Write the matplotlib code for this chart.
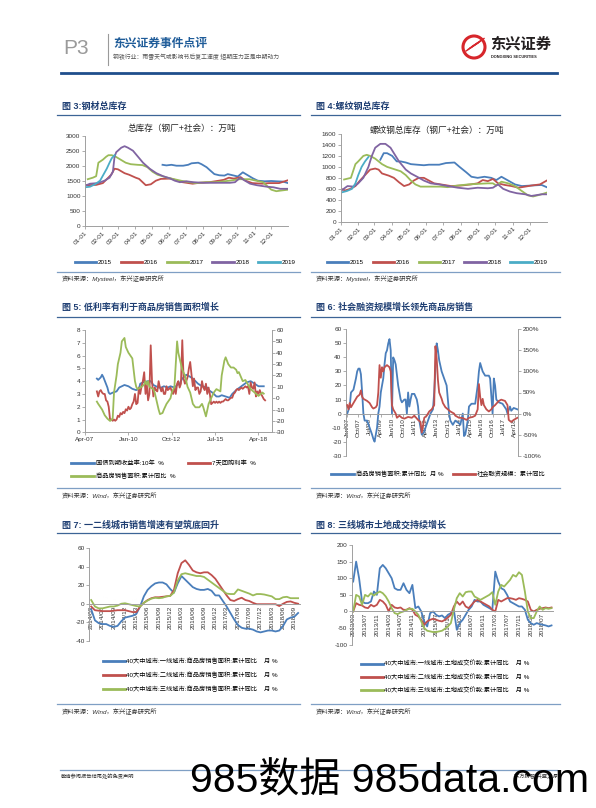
import numpy as np
import pandas as pd
import matplotlib
matplotlib.use('Agg')
import matplotlib.pyplot as plt
import matplotlib.dates as mdates
from matplotlib.lines import Line2D
from matplotlib.patches import Circle
from matplotlib.ticker import FuncFormatter

W, H = 596, 808
plt.rcParams['font.family'] = ['Liberation Sans', 'Noto Sans CJK SC', 'DejaVu Sans']
plt.rcParams['axes.unicode_minus'] = False

BLUE = '#4a7ebb'
RED = '#c0504d'
GREEN = '#9bbb59'
PURPLE = '#8064a2'
CYAN = '#4bacc6'
NAVY = '#1f3f73'
AX_GRAY = '#a0a0a0'

# 图3 钢材总库存（万吨）
steel15_d = ['05-20', '05-27', '06-05', '06-14', '06-26', '07-05', '07-11', '07-23', '07-29', '08-07', '08-13',
             '08-21', '08-30', '09-08', '09-14', '09-23', '10-02', '10-11', '10-20', '10-29', '11-07', '11-19',
             '12-01', '12-10', '12-22', '12-31']
steel15 = [2030, 2010, 2030, 2000, 2000, 2030, 2080, 2100, 2050, 1950, 1850, 1720, 1680, 1670, 1720, 1680, 1640,
           1780, 1680, 1580, 1500, 1480, 1490, 1480, 1470, 1420]
steel16_d = ['01-01', '01-21', '02-02', '02-17', '02-23', '03-01', '03-13', '03-21', '04-02', '04-08', '04-20',
             '04-29', '05-08', '05-17', '06-04', '06-16', '06-25', '07-13', '07-25', '08-12', '08-29', '09-07',
             '09-16', '09-25', '10-07', '10-16', '10-28', '11-15', '11-27', '12-15', '12-30']
steel16 = [1350, 1360, 1420, 1700, 1900, 1880, 1750, 1700, 1600, 1560, 1350, 1380, 1500, 1560, 1570, 1500, 1450,
           1400, 1430, 1450, 1500, 1530, 1600, 1570, 1620, 1500, 1420, 1400, 1420, 1420, 1510]
steel17_d = ['01-06', '01-15', '01-21', '01-25', '02-02', '02-08', '02-12', '02-18', '02-25', '03-06', '03-15',
             '03-24', '04-05', '04-14', '04-23', '05-02', '05-11', '05-20', '05-29', '06-10', '06-22', '07-07',
             '07-19', '08-06', '08-24', '09-17', '10-05', '10-23', '11-04', '11-16', '11-25', '12-01', '12-10',
             '12-22', '12-31']
steel17 = [1550, 1600, 1650, 2100, 2200, 2300, 2350, 2350, 2300, 2200, 2100, 2050, 2030, 2020, 1950, 1800, 1700,
           1650, 1600, 1550, 1500, 1450, 1420, 1450, 1450, 1500, 1550, 1550, 1500, 1450, 1300, 1200, 1150, 1180,
           1200]
steel18_d = ['01-01', '01-10', '01-24', '02-05', '02-14', '02-20', '02-23', '02-26', '03-07', '03-13', '03-19',
             '03-28', '04-06', '04-15', '04-27', '05-09', '05-21', '06-02', '06-11', '06-20', '07-02', '07-14',
             '08-01', '08-25', '09-18', '09-27', '10-06', '10-15', '10-24', '11-05', '11-23', '12-05', '12-17',
             '12-31']
steel18 = [1330, 1400, 1420, 1500, 1600, 1800, 2300, 2450, 2600, 2650, 2600, 2500, 2300, 2100, 1900, 1750, 1650,
           1580, 1500, 1450, 1480, 1450, 1430, 1430, 1430, 1450, 1600, 1500, 1400, 1350, 1300, 1280, 1230, 1230]
steel19_d = ['01-01', '01-10', '01-19', '01-28', '02-03', '02-09', '02-14', '02-18', '02-23']
steel19 = [1280, 1300, 1380, 1500, 1700, 1900, 2100, 2250, 2350]

# 图4 螺纹钢总库存（万吨）
rebar15_d = ['03-12', '03-18', '03-24', '04-02', '04-10', '04-17', '04-26', '05-05', '05-16', '05-28', '06-06',
             '06-24', '07-06', '07-21', '07-30', '08-11', '08-20', '08-31', '09-12', '09-24', '10-03', '10-12',
             '10-24', '11-05', '11-17', '12-04', '12-22', '12-31']
rebar15 = [1130, 1250, 1250, 1200, 1100, 1100, 1080, 1050, 1040, 1030, 1040, 1040, 1070, 1080, 1000, 900, 820,
           800, 820, 800, 760, 820, 750, 680, 650, 660, 670, 630]
rebar16_d = ['01-01', '01-09', '01-18', '01-27', '02-04', '02-13', '02-22', '03-03', '03-09', '03-15', '03-27',
             '04-05', '04-14', '04-23', '05-02', '05-10', '05-19', '05-28', '06-06', '06-15', '06-27', '07-15',
             '08-02', '08-19', '08-31', '09-09', '09-18', '09-27', '10-06', '10-18', '10-30', '11-11', '11-23',
             '12-04', '12-19', '12-31']
rebar16 = [600, 570, 600, 650, 750, 850, 950, 970, 950, 880, 840, 800, 720, 650, 680, 750, 800, 800, 750, 700,
           680, 650, 660, 680, 700, 760, 740, 780, 700, 670, 650, 620, 640, 660, 680, 750]
rebar17_d = ['01-07', '01-19', '01-27', '02-01', '02-10', '02-16', '02-22', '03-03', '03-15', '03-24', '04-05',
             '04-17', '04-26', '05-05', '05-13', '05-22', '06-06', '06-27', '07-09', '07-27', '08-14', '08-31',
             '09-18', '09-27', '10-03', '10-12', '10-24', '11-05', '11-17', '11-28', '12-07', '12-22', '12-31']
rebar17 = [770, 800, 1050, 1100, 1200, 1220, 1200, 1150, 1050, 1000, 960, 920, 850, 750, 680, 640, 640, 640, 630,
           660, 680, 690, 700, 700, 660, 730, 700, 650, 560, 480, 460, 500, 530]
rebar18_d = ['01-01', '01-13', '01-24', '02-01', '02-10', '02-19', '02-25', '03-03', '03-12', '03-21', '03-30',
             '04-08', '04-14', '04-26', '05-05', '05-16', '05-28', '06-09', '06-24', '07-09', '07-27', '08-14',
             '08-31', '09-18', '09-27', '10-06', '10-15', '10-27', '11-08', '11-23', '12-04', '12-22', '12-31']
rebar18 = [560, 650, 640, 700, 800, 1000, 1200, 1350, 1420, 1420, 1350, 1200, 1100, 950, 880, 820, 750, 700, 680,
           650, 620, 600, 620, 610, 620, 680, 600, 550, 520, 500, 470, 500, 500]
rebar19_d = ['01-01', '01-12', '01-21', '01-27', '02-01', '02-07', '02-13', '02-19']
rebar19 = [530, 560, 600, 700, 850, 1000, 1100, 1180]
year_labels = ['2015', '2016', '2017', '2018', '2019']

# 图5 国债10年收益率 / 7天回购利率 / 商品房销售面积累计同比
yield_d = ['2008-01', '2008-02', '2008-04', '2008-05', '2008-06', '2008-09', '2008-10', '2008-11', '2009-01',
           '2009-04', '2009-06', '2009-08', '2009-10', '2010-01', '2010-04', '2010-07', '2010-09', '2010-10',
           '2010-12', '2011-04', '2011-06', '2011-08', '2011-12', '2012-02', '2012-04', '2012-07', '2012-09',
           '2012-12', '2013-02', '2013-04', '2013-06', '2013-09', '2013-11', '2014-02', '2014-06', '2014-09',
           '2015-01', '2015-02', '2015-05', '2015-08', '2015-10', '2015-12', '2016-06', '2016-08', '2016-11',
           '2017-03', '2017-07', '2017-10', '2018-01', '2018-04', '2018-08']
yield10 = [4.2, 4.1, 4.3, 4.5, 4.3, 3.5, 3.1, 3.0, 3.1, 3.2, 3.5, 3.6, 3.7, 3.6, 3.4, 3.3, 3.4, 3.8, 3.9, 4.0, 4.0,
           3.7, 3.5, 3.5, 3.6, 3.5, 3.6, 3.5, 3.7, 3.8, 4.2, 4.5, 4.4, 4.2, 3.8, 3.6, 3.5, 3.3, 3.1, 2.8, 2.8, 2.9,
           2.7, 3.0, 3.3, 3.6, 3.9, 4.0, 3.8, 3.6, 3.6]
repo_start = '2008-01'
repo7d = [3.2, 2.8, 3.2, 3.3, 3.1, 3.0, 3.0, 2.5, 2.4, 2.0, 1.0, 1.0,
          0.9, 1.0, 0.9, 1.0, 1.3, 1.2, 1.5, 1.4, 1.6, 1.5, 1.8, 1.7,
          2.0, 1.8, 1.9, 2.2, 2.4, 3.0, 2.2, 2.3, 3.5, 3.0, 3.6, 4.0,
          4.7, 3.0, 3.8, 2.5, 3.0, 6.8, 4.0, 2.8, 3.5, 3.3, 3.2, 4.0,
          3.5, 3.2, 3.5, 3.0, 3.0, 3.6, 3.3, 3.4, 3.5, 3.2, 3.0, 3.5,
          3.0, 3.8, 4.0, 3.5, 3.8, 7.2, 4.2, 3.8, 4.0, 4.3, 5.0, 5.5,
          4.5, 3.6, 4.2, 3.3, 3.5, 3.5, 3.0, 3.2, 4.0, 3.5, 3.3, 3.8,
          3.0, 3.5, 3.0, 2.2, 2.3, 2.4, 2.3, 2.4, 2.3, 2.4, 2.3, 2.4,
          2.4, 2.5, 2.6, 2.5, 2.5, 2.6, 2.7, 2.7, 3.0, 3.1, 3.3, 3.4,
          3.3, 3.4, 3.5, 3.4, 3.5, 3.6, 3.5, 3.6, 3.0, 3.9, 3.5, 3.4,
          3.9, 2.8, 3.2, 3.0, 3.3, 3.0, 2.8, 2.6, 2.5]
sales_d = ['2008-01', '2008-02', '2008-05', '2008-07', '2008-09', '2008-11', '2009-01', '2009-02', '2009-04',
           '2009-05', '2009-07', '2009-08', '2009-10', '2009-11', '2010-01', '2010-04', '2010-05', '2010-06',
           '2010-07', '2010-08', '2010-11', '2011-01', '2011-02', '2011-03', '2011-04', '2011-05', '2011-08',
           '2011-09', '2011-10', '2011-12', '2012-01', '2012-03', '2012-04', '2012-06', '2012-09', '2012-10',
           '2012-12', '2013-02', '2013-03', '2013-05', '2013-06', '2013-08', '2013-09', '2013-10', '2013-12',
           '2014-02', '2014-04', '2014-07', '2014-09', '2014-10', '2014-12', '2015-02', '2015-04', '2015-06',
           '2015-08', '2015-11', '2015-12', '2016-02', '2016-03', '2016-05', '2016-07', '2016-09', '2016-11',
           '2016-12', '2017-01', '2017-04', '2017-06', '2017-09', '2017-10', '2017-11', '2018-02', '2018-03',
           '2018-04', '2018-07', '2018-08']
sales_yoy = [-3, -5, -10, -15, -18, -20, -18, 5, 20, 30, 40, 50, 53, 45, 40, 35, 25, 15, 10, 8, 10, 12, 15, 12, 15,
             10, 8, 5, 0, -10, -14, -13, -10, -5, 0, 5, 10, 50, 40, 30, 25, 20, 15, 10, 5, -5, -8, -8, -5, -8, -16,
             -5, 0, 5, 8, 6, 20, 33, 36, 30, 27, 27, 25, 22, 23, 15, 16, 10, 8, 7, 4, 3, 2, 5, 4]

# 图6 商品房销售面积累计同比 / 社会融资规模累计同比
area6_d = ['2007-01', '2007-03', '2007-04', '2007-06', '2007-08', '2007-09', '2007-10', '2007-11', '2007-12',
           '2008-01', '2008-02', '2008-03', '2008-05', '2008-07', '2008-09', '2008-10', '2008-11', '2009-01',
           '2009-02', '2009-03', '2009-04', '2009-06', '2009-07', '2009-08', '2009-09', '2009-10', '2009-11',
           '2009-12', '2010-01', '2010-02', '2010-03', '2010-04', '2010-06', '2010-08', '2010-09', '2010-11',
           '2010-12', '2011-01', '2011-02', '2011-03', '2011-04', '2011-05', '2011-07', '2011-09', '2011-10',
           '2011-11', '2011-12', '2012-01', '2012-03', '2012-04', '2012-06', '2012-08', '2012-10', '2012-11',
           '2013-01', '2013-02', '2013-03', '2013-05', '2013-07', '2013-09', '2013-10', '2013-11', '2013-12',
           '2014-02', '2014-04', '2014-07', '2014-08', '2014-10', '2014-11', '2014-12', '2015-02', '2015-03',
           '2015-05', '2015-07', '2015-08', '2015-10', '2015-11', '2015-12', '2016-02', '2016-04', '2016-07',
           '2016-08', '2016-10', '2016-11', '2016-12', '2017-01', '2017-03', '2017-06', '2017-09', '2017-10',
           '2017-12', '2018-01', '2018-03', '2018-06']
area6 = [0, 5, 15, 17, 25, 30, 32, 32, 28, 15, 0, -5, -5, -10, -15, -18, -20, -10, 0, 5, 15, 25, 35, 43, 45, 50,
         53, 45, 0, 40, 38, 35, 20, 10, 8, 10, 10, 0, 15, 5, 10, 14, 14, 10, 5, -5, -10, -15, -13, -10, -5, 0, 3,
         15, 50, 45, 38, 30, 25, 20, 10, 0, -5, -8, -5, -7, -8, 0, -16, -15, -5, 5, 7, 7, 7, 20, 30, 36, 30, 27,
         27, 25, 0, 25, 20, 10, 8, 7, 3, 0, 5, 2, 4, 3]
tsf_d = ['2007-01', '2007-02', '2007-03', '2007-04', '2007-06', '2007-07', '2007-09', '2007-11', '2007-12',
         '2008-01', '2008-02', '2008-05', '2008-07', '2008-09', '2008-10', '2008-12', '2009-01', '2009-02',
         '2009-03', '2009-04', '2009-05', '2009-06', '2009-07', '2009-09', '2009-11', '2009-12', '2010-01',
         '2010-02', '2010-03', '2010-04', '2010-05', '2010-07', '2010-09', '2010-11', '2011-02', '2011-05',
         '2011-07', '2011-10', '2011-12', '2012-01', '2012-02', '2012-03', '2012-05', '2012-07', '2012-09',
         '2012-10', '2012-11', '2012-12', '2013-01', '2013-02', '2013-03', '2013-05', '2013-06', '2013-08',
         '2013-10', '2013-12', '2014-03', '2014-04', '2014-07', '2014-09', '2014-11', '2015-01', '2015-03',
         '2015-06', '2015-08', '2015-10', '2015-11', '2015-12', '2016-01', '2016-02', '2016-03', '2016-05',
         '2016-07', '2016-09', '2016-10', '2016-12', '2017-03', '2017-05', '2017-08', '2017-10', '2017-11',
         '2018-01', '2018-03', '2018-06']
tsf_yoy = [20, 10, 25, 15, 25, 30, 40, 45, 55, 40, 35, 30, 25, 15, 12, 15, 20, 50, 115, 85, 110, 100, 110, 115,
           110, 100, 20, 10, 5, 0, -10, -5, -10, -12, -8, -10, -5, -15, -20, -45, -30, -10, -5, 5, 10, 15, 20, 160,
           130, 80, 50, 35, 25, 15, 10, 5, 0, -5, -10, -10, -12, -15, -10, -8, -5, 10, 70, 40, 20, 35, 20, 10, 5,
           10, 15, 20, 30, 33, 30, 20, -15, -20, -15, -10]

# 图7 40大中城市商品房销售面积累计同比（2014/03 起，月度）
sales7_start = '2014-03'
sales_t1 = [-6, -18, -21, -22, -22, -24, -25, -24, -19, -15, -14, -13, -11, -3, 8, 15, 19, 22, 23, 23, 21, 16, 12,
            22, 30, 26, 22, 18, 16, 15, 15, 16, 14, 9, 9, 3, -3, -10, -17, -23, -26, -27, -27, -28, -30, -31, -30,
            -29, -29, -30, -29, -24, -17, -15, -14, -10]
sales_t2 = [-3, -7, -7.5, -8, -8, -8, -7.5, -7, -7, -7, -8, -9, -9, -3, 1, 4, 6, 7, 7, 7.5, 8, 8.5, 15, 33, 44,
            47, 42, 36, 34, 33, 34, 34, 31, 27, 21, 15, 9, 4, 3, 5, 6.5, 4, 3, 1, -0.5, -0.5, -0.5, -0.5, -0.5,
            -0.5, -2.5, 0, 2, 2.5, 1, 0]
sales_t3 = [4, -3, -5, -5, -4, -3, -3, -2, 0, 0.5, -0.5, -1.5, -2.5, -3, 1, 3.5, 5.5, 6.5, 6, 6.5, 8, 8.5, 12, 25,
            32, 33, 32, 31, 30, 30, 29, 26, 23, 20, 17, 14, 11, 10.5, 10.5, 15.5, 14, 12.5, 11, 9, 10.5, 10.5, 10,
            9, 8, 5, 5, 7, 7.5, 6, 6, 6]

# 图8 40大中城市土地成交价款累计同比（2013/03 起，月度）
land8_start = '2013-03'
land_t1 = [90, 150, 100, 30, 25, 25, 30, 60, 50, 130, 140, 130, 115, 100, 70, 65, 65, 85, 65, 55, 80, 10, 15, 0,
           -30, -45, -5, 0, -10, -15, -12, -20, -10, -5, 5, -55, -35, -25, -10, 5, 15, 35, 30, 30, 20, 15, 10, 5,
           120, 90, 70, 65, 50, 30, 25, 20, 15, 15, 5, -25, -35, -40, -35, -38, -40, -42, -45, -42]
land_t2 = [0, 25, 20, 18, 12, 10, 20, 15, 20, 35, 30, 20, 0, 20, 12, 10, 12, 5, 5, 10, 5, -10, -15, -25, -40, -30,
           -25, -22, -25, -28, -30, -25, -18, -10, 15, 30, 20, 30, 15, 10, 20, 30, 35, 30, 25, 20, 15, 5, 0, 35, 30,
           35, 40, 40, 38, 35, 40, 38, 35, 30, 5, 0, 5, 8, 10, 12, 10, 12]
land_t3 = [0, 50, 45, 20, 50, 45, 55, 48, 55, 60, 55, 45, 30, 10, -5, -8, -3, 0, 5, 8, 8, 0, -10, -30, -50, -58,
           -60, -62, -62, -60, -58, -52, -45, -35, 5, 40, 55, 45, 58, 60, 60, 45, 40, 35, 40, 45, 50, 58, 20, 60,
           80, 75, 85, 95, 110, 105, 118, 110, 60, 0, -20, -20, 0, 15, 5, 10, 8, 10]


def box(x0, y0, x1, y1):
    # pixel box (top-left origin) -> figure fraction rect
    return [x0 / W, 1 - y1 / H, (x1 - x0) / W, (y1 - y0) / H]


def md(days):
    return pd.to_datetime(['2001-' + d for d in days])


def month_idx(dates, start):
    p = pd.PeriodIndex(dates, freq='M')
    s = pd.Period(start, freq='M')
    return np.array([(x - s).n for x in p])


def clean(ax, spines=('left', 'bottom')):
    for s in ax.spines:
        ax.spines[s].set_visible(s in spines)
        ax.spines[s].set_color(AX_GRAY)
        ax.spines[s].set_linewidth(0.7)
    ax.tick_params(labelsize=4.6, colors=AX_GRAY, labelcolor='#333333', length=2, width=0.6, pad=1.2)
    ax.patch.set_alpha(0)


def legend_handles(colors, labels):
    return [Line2D([], [], color=c, lw=2.0, label=l) for c, l in zip(colors, labels)]


fig = plt.figure(figsize=(W / 100, H / 100), dpi=100)
page = fig.add_axes([0, 0, 1, 1])
page.set_xlim(0, W)
page.set_ylim(H, 0)
page.axis('off')

# header
page.text(63, 49, 'P3', fontsize=15, color='#9a9a9a', va='center', ha='left')
page.plot([108, 108], [34, 65], color='#9a9a9a', lw=0.8)
page.text(113, 44, '东兴证券事件点评', fontsize=8.5, weight='bold', color='#1f5c99', va='center')
page.text(113, 57, '钢铁行业：雨雪天气或影响节后复工速度 短期压力正是中期动力', fontsize=4.2,
          color='#555555', va='center')
page.plot([61, 557], [73, 73], color='#1f4e8c', lw=2)
page.add_patch(Circle((474, 47), 11, fill=False, ec='#d7262b', lw=2.2))
for k in range(4):
    page.plot([466 + k * 2, 478 + k * 2], [51 - k * 1.5, 43 - k * 1.5], color='#d7262b', lw=1.0)
page.text(490, 44, '东兴证券', fontsize=11, weight='bold', color='#231f20', va='center')
page.text(491, 57, 'DONGXING SECURITIES', fontsize=2.8, weight='bold', color='#231f20', va='center')


def section(x0, x1, yt, yl, title, ysl, ys, src):
    page.text(x0 + 5, yt, title, fontsize=6.5, weight='bold', color=NAVY, va='center')
    page.plot([x0, x1], [yl, yl], color='#3c6496', lw=0.9)
    page.plot([x0, x1], [ysl, ysl], color='#7f9fc4', lw=0.9)
    page.text(x0 + 5, ys, src, fontsize=4.5, color='#333333', va='center', style='italic')


section(57, 300, 106.5, 115, '图 3:钢材总库存', 271.7, 279, '资料来源：Mysteel，东兴证券研究所')
section(311, 560, 106.5, 115, '图 4:螺纹钢总库存', 271.7, 279, '资料来源：Mysteel，东兴证券研究所')
section(57, 300, 307.3, 316.7, '图 5: 低利率有利于商品房销售面积增长', 487.7, 496, '资料来源：Wind，东兴证券研究所')
section(311, 560, 307.3, 316.7, '图 6: 社会融资规模增长领先商品房销售', 487.7, 496, '资料来源：Wind，东兴证券研究所')
section(57, 300, 525, 533.3, '图 7: 一二线城市销售增速有望筑底回升', 704.3, 712, '资料来源：Wind，东兴证券研究所')
section(311, 560, 525, 533.3, '图 8: 三线城市土地成交持续增长', 704.3, 712, '资料来源：Wind，东兴证券研究所')

# footer
page.plot([60, 557], [770, 770], color='#7f9fc4', lw=0.9)
page.text(61, 776, '敬请参阅报告结尾处的免责声明', fontsize=3.8, color='#333333', va='center')
page.text(557, 776, '东方财智 兴盛之源', fontsize=3.8, color='#333333', va='center', ha='right')
page.text(190, 781, '985数据 985data.com', fontsize=29.5, color='black', va='center',
          family=['Liberation Sans', 'Noto Sans CJK SC'])

year_colors = [BLUE, RED, GREEN, PURPLE, CYAN]


def inventory_chart(rect, series, ymax, ystep, title, tx, ty, legend_x):
    ax = fig.add_axes(box(*rect))
    clean(ax)
    for (d, v), c, lab in zip(series, year_colors, year_labels):
        ax.plot(md(d), v, color=c, lw=1.3)
    ax.set_xlim(md(['01-01'])[0], md(['12-31'])[0])
    ax.set_ylim(0, ymax)
    ax.set_yticks(np.arange(0, ymax + 1, ystep))
    ax.xaxis.set_major_locator(mdates.MonthLocator())
    ax.xaxis.set_major_formatter(mdates.DateFormatter('%m-%d'))
    plt.setp(ax.get_xticklabels(), rotation=45, ha='right', va='top', rotation_mode='anchor')
    page.text(tx, ty, title, fontsize=6.2, color='#222222', ha='center', va='center')
    ax.legend(handles=legend_handles(year_colors, year_labels), ncol=5, loc='center',
              bbox_to_anchor=(legend_x / W, 1 - 262.7 / H), bbox_transform=fig.transFigure,
              frameon=False, fontsize=4.5, handlelength=3.4, handletextpad=0.3, columnspacing=1.4)
    return ax


inventory_chart((85, 135.7, 288, 225.7),
                [(steel15_d, steel15), (steel16_d, steel16), (steel17_d, steel17), (steel18_d, steel18),
                 (steel19_d, steel19)], 3000, 500, '总库存（钢厂+社会）：万吨', 182, 128.5, 185)
inventory_chart((340.7, 134, 546.7, 221.7),
                [(rebar15_d, rebar15), (rebar16_d, rebar16), (rebar17_d, rebar17), (rebar18_d, rebar18),
                 (rebar19_d, rebar19)], 1600, 200, '螺纹钢总库存（钢厂+社会）：万吨', 437, 130, 437)

# chart 5
ax5 = fig.add_axes(box(85, 330, 271.7, 432.3))
clean(ax5)
ax5.plot(pd.to_datetime(yield_d), yield10, color=BLUE, lw=1.3)
ax5.plot(pd.date_range(repo_start, periods=len(repo7d), freq='MS'), repo7d, color=RED, lw=1.3)
ax5.set_ylim(0, 8)
ax5.set_yticks(range(0, 9))
ax5.set_xlim(pd.Timestamp('2007-04-01'), pd.Timestamp('2019-02-01'))
ax5.set_xticks(pd.to_datetime(['2007-04-01', '2010-01-01', '2012-10-01', '2015-07-01', '2018-04-01']))
ax5.xaxis.set_major_formatter(mdates.DateFormatter('%b-%y'))
ax5r = ax5.twinx()
clean(ax5r, spines=('right',))
ax5r.plot(pd.to_datetime(sales_d), sales_yoy, color=GREEN, lw=1.3)
ax5r.set_ylim(-30, 60)
ax5r.set_yticks(range(-30, 61, 10))
h5 = legend_handles([BLUE, GREEN, RED], ['国债到期收益率:10年  %', '商品房销售面积:累计同比  %', '7天回购利率  %'])
ax5.legend(handles=h5, ncol=2, loc='upper left', bbox_to_anchor=(68 / W, 1 - 457 / H),
           bbox_transform=fig.transFigure, frameon=False, fontsize=4.5, handlelength=3.6,
           handletextpad=0.3, columnspacing=2.0, labelspacing=1.0, borderpad=0)

# chart 6
ax6 = fig.add_axes(box(346, 329.3, 518.3, 455.7))
clean(ax6)
ax6.plot(month_idx(area6_d, '2007-01'), area6, color=BLUE, lw=1.3)
ax6.set_ylim(-30, 60)
ax6.set_yticks(range(-30, 61, 10))
ax6.set_xlim(-1, 137.7)
ax6.spines['bottom'].set_position(('data', 0))
ticks6 = np.arange(0, 138, 9)
ax6.set_xticks(ticks6)
ax6.set_xticklabels(pd.period_range('2007-01', periods=138, freq='M')[ticks6].strftime('%b/%y'),
                    rotation=90, ha='center', va='top')
ax6r = ax6.twinx()
clean(ax6r, spines=('right',))
ax6r.plot(month_idx(tsf_d, '2007-01'), tsf_yoy, color=RED, lw=1.3)
ax6r.set_ylim(-100, 200)
ax6r.set_yticks(range(-100, 201, 50))
ax6r.yaxis.set_major_formatter(FuncFormatter(lambda v, p: f'{v:.0f}%'))
h6 = legend_handles([BLUE, RED], ['商品房销售面积:累计同比  月 %', '社会融资规模：累计同比'])
ax6.legend(handles=h6, ncol=2, loc='center left', bbox_to_anchor=(328 / W, 1 - 474 / H),
           bbox_transform=fig.transFigure, frameon=False, fontsize=4.5, handlelength=3.6,
           handletextpad=0.3, columnspacing=1.5, borderpad=0)


def city_chart(rect, series, start, step, ylim, ystep, labels, lx, ly):
    ax = fig.add_axes(box(*rect))
    clean(ax)
    n = len(series[0])
    x = np.arange(n)
    for v, c in zip(series, [BLUE, RED, GREEN]):
        ax.plot(x, v, color=c, lw=1.3)
    ax.set_xlim(-0.5, n - 0.5)
    ax.set_ylim(*ylim)
    ax.set_yticks(range(ylim[0], ylim[1] + 1, ystep))
    ax.spines['bottom'].set_position(('data', 0))
    ticks = np.arange(0, n, step)
    ax.set_xticks(ticks)
    ax.set_xticklabels(pd.period_range(start, periods=n, freq='M')[ticks].strftime('%Y/%m'),
                       rotation=90, ha='center', va='top')
    ax.tick_params(axis='x', length=0)
    ax.legend(handles=legend_handles([BLUE, RED, GREEN], labels), loc='upper left',
              bbox_to_anchor=(lx / W, 1 - ly / H), bbox_transform=fig.transFigure, frameon=False,
              fontsize=4.5, handlelength=3.5, handletextpad=0.2, labelspacing=1.15, borderpad=0)


city_chart((89.3, 548.3, 300, 640.7), [sales_t1, sales_t2, sales_t3], sales7_start, 3, (-40, 60), 20,
           ['40大中城市:一线城市:商品房销售面积:累计同比    月 %',
            '40大中城市:二线城市:商品房销售面积:累计同比    月 %',
            '40大中城市:三线城市:商品房销售面积:累计同比    月 %'], 100, 655)
city_chart((351.7, 545, 553, 644.7), [land_t1, land_t2, land_t3], land8_start, 4, (-100, 200), 50,
           ['40大中城市:一线城市:土地成交价款:累计同比    月 %',
            '40大中城市:二线城市:土地成交价款:累计同比    月 %',
            '40大中城市:三线城市:土地成交价款:累计同比    月 %'], 357.7, 657.5)

fig.savefig('out.png', dpi=100)
